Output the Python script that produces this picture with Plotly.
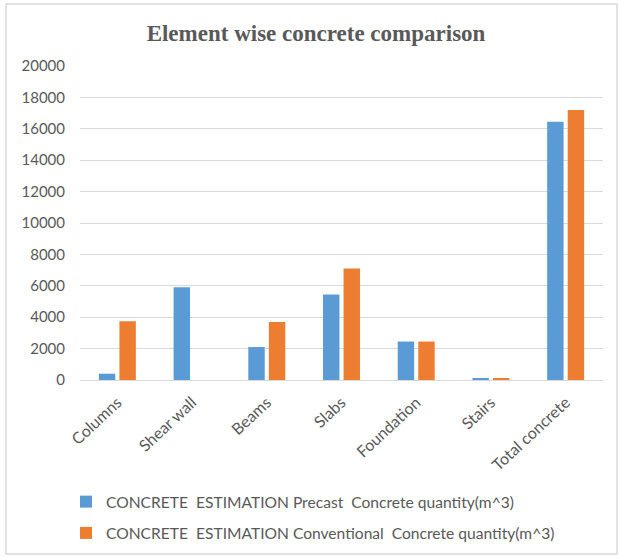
import plotly.graph_objects as go

# Concrete quantities per structural element (m^3)
categories = ["Columns", "Shear wall", "Beams", "Slabs", "Foundation", "Stairs", "Total concrete"]
precast = [400, 5900, 2100, 5450, 2450, 120, 16450]
conventional = [3750, 0, 3700, 7100, 2450, 110, 17200]

precast_name = "CONCRETE\u00a0 ESTIMATION Precast\u00a0 Concrete quantity(m^3)"
conventional_name = "CONCRETE\u00a0 ESTIMATION Conventional\u00a0 Concrete quantity(m^3)"

W, H = 620, 557
ML, MR, MT, MB = 80, 17, 66, 177
PW, PH = W - ML - MR, H - MT - MB

TEXT = "#595959"
GRID = "#d9d9d9"
BODY_FONT = "Lato, 'Open Sans', sans-serif"

fig = go.Figure()
fig.add_trace(go.Bar(x=categories, y=precast, name=precast_name,
                     marker=dict(color="#5B9BD5", line=dict(width=0)),
                     legendgroup="a"))
fig.add_trace(go.Bar(x=categories, y=conventional, name=conventional_name,
                     marker=dict(color="#ED7D31", line=dict(width=0)),
                     legendgroup="b"))


def px_x(p):
    return (p - ML) / PW


def px_y(p):
    return (H - MB - p) / PH


# light frame around the whole chart
fig.add_shape(type="rect", xref="paper", yref="paper",
              x0=px_x(6), x1=px_x(617), y0=px_y(554), y1=px_y(4),
              line=dict(color=GRID, width=1.5), fillcolor="rgba(0,0,0,0)",
              layer="below")

fig.update_layout(
    width=W, height=H,
    margin=dict(l=ML, r=MR, t=MT, b=MB, pad=0, autoexpand=False),
    paper_bgcolor="white", plot_bgcolor="white",
    barmode="group", bargap=0.45, bargroupgap=0.2,
    title=dict(text="<b>Element wise concrete comparison</b>",
               x=px_x(316), xref="paper", xanchor="center",
               y=1 - 33 / H, yref="container", yanchor="middle",
               font=dict(family="'Liberation Serif', 'DejaVu Serif', serif",
                         size=23, color=TEXT)),
    font=dict(family=BODY_FONT, color=TEXT, size=15),
    showlegend=True,
    legend=dict(orientation="v", x=px_x(66), xanchor="left",
                y=px_y(485), yanchor="top",
                traceorder="grouped", tracegroupgap=8,
                font=dict(family=BODY_FONT, size=15.6, color=TEXT),
                bgcolor="rgba(0,0,0,0)"),
)

fig.update_yaxes(range=[0, 20000], dtick=2000, showgrid=True, gridcolor=GRID,
                 gridwidth=1, zeroline=True, zerolinecolor=GRID, zerolinewidth=1,
                 showline=False, ticks="", ticklabelstandoff=14, automargin=False,
                 tickfont=dict(family=BODY_FONT, size=15, color=TEXT),
                 tickformat="d")
fig.update_xaxes(showgrid=False, showline=True, linecolor=GRID, linewidth=1,
                 ticks="", tickangle=-43, ticklabelstandoff=6, automargin=False,
                 tickfont=dict(family=BODY_FONT, size=16, color=TEXT))

fig.write_html("out.html")
